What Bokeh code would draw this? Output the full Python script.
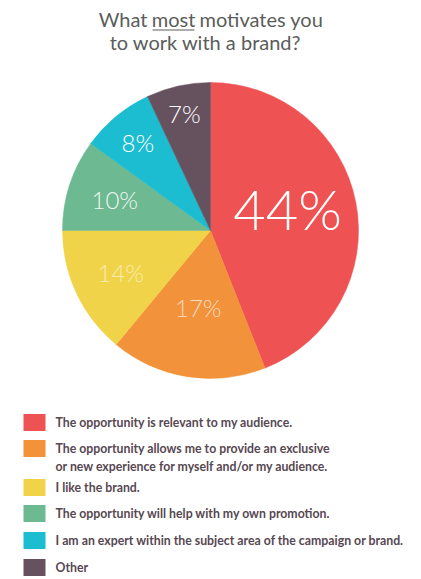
import numpy as np
from bokeh.plotting import figure
from bokeh.models import Range1d, ColumnDataSource
from bokeh.core.properties import value
from bokeh.embed import file_html
from bokeh.resources import INLINE

# ---- data ----
categories = [
    "The opportunity is relevant to my audience.",
    "The opportunity allows me to provide an exclusive\nor new experience for myself and/or my audience.",
    "I like the brand.",
    "The opportunity will help with my own promotion.",
    "I am an expert within the subject area of the campaign or brand.",
    "Other",
]
percents = [44, 17, 14, 10, 8, 7]
pct_labels = ["44%", "17%", "14%", "10%", "8%", "7%"]

# ---- styles ----
colors = ["#EF5253", "#F2923A", "#F1D34A", "#6DB992", "#1CBDD0", "#66525F"]
label_colors = ["#ffffff", "#f6dcc0", "#f7ecb0", "#eef6f0", "#ffffff", "#ffffff"]
label_sizes = ["56px", "24px", "24px", "24px", "24px", "24px"]
label_rfrac = [0.53, 0.53, 0.67, 0.68, 0.77, 0.81]
label_dy = [7, 0, 0, 0, 0, 0]

W, H = 421, 579
def Y(px):
    return H - px

p = figure(width=W, height=H, output_backend="svg", toolbar_location=None,
           x_range=Range1d(0, W), y_range=Range1d(0, H), min_border=0)
p.axis.visible = False
p.xgrid.visible = False
p.ygrid.visible = False
p.outline_line_color = None
p.background_fill_color = "white"
p.border_fill_color = "white"

# pie
cx, cy, R = 210, Y(230), 148
frac = np.array(percents, dtype=float) / sum(percents)
cum = np.concatenate([[0], np.cumsum(frac)])
starts = np.pi / 2 - cum[:-1] * 2 * np.pi
ends = np.pi / 2 - cum[1:] * 2 * np.pi
src = ColumnDataSource(dict(start=starts, end=ends, color=colors))
p.wedge(x=cx, y=cy, radius=R, start_angle="start", end_angle="end",
        direction="clock", fill_color="color", line_color="color",
        line_width=0.5, source=src)

mids = np.pi / 2 - (cum[:-1] + frac / 2) * 2 * np.pi
lx = cx + np.array(label_rfrac) * R * np.cos(mids)
ly = cy + np.array(label_rfrac) * R * np.sin(mids) + np.array(label_dy)
for i in range(len(pct_labels)):
    p.text(x=[lx[i]], y=[ly[i]], text=[pct_labels[i]], text_font=value("Lato Light"),
           text_font_size=label_sizes[i], text_color=label_colors[i],
           text_align="center", text_baseline="middle")

# title
tcol = "#5a5d5a"
p.text(x=[147], y=[Y(18)], text=["What"], text_font=value("Lato"), text_font_size="20px",
       text_color=tcol, text_align="right", text_baseline="middle")
p.text(x=[173], y=[Y(18)], text=["most"], text_font=value("Lato"), text_font_size="20px",
       text_color=tcol, text_align="center", text_baseline="middle")
p.text(x=[199], y=[Y(18)], text=["motivates you"], text_font=value("Lato"), text_font_size="20px",
       text_color=tcol, text_align="left", text_baseline="middle")
p.segment(x0=[152], y0=[Y(29.5)], x1=[194], y1=[Y(29.5)], line_color=tcol, line_width=1.2)
p.text(x=[205], y=[Y(41)], text=["to work with a brand?"], text_font=value("Lato"), text_font_size="20px",
       text_color=tcol, text_align="center", text_baseline="middle")

# legend
row_y = [422, 448, 487, 513, 540, 567]
p.rect(x=[34] * 6, y=[Y(v) for v in row_y], width=22, height=17,
       fill_color=colors, line_color=None)
p.text(x=[55] * 6, y=[Y(v) + 7.5 for v in row_y], text=categories, text_font=value("Lato"),
       text_font_size="12.3px", text_font_style="bold", text_color="#574852",
       text_align="left", text_baseline="top", text_line_height=1.22)

open("out.html", "w").write(file_html(p, INLINE))
